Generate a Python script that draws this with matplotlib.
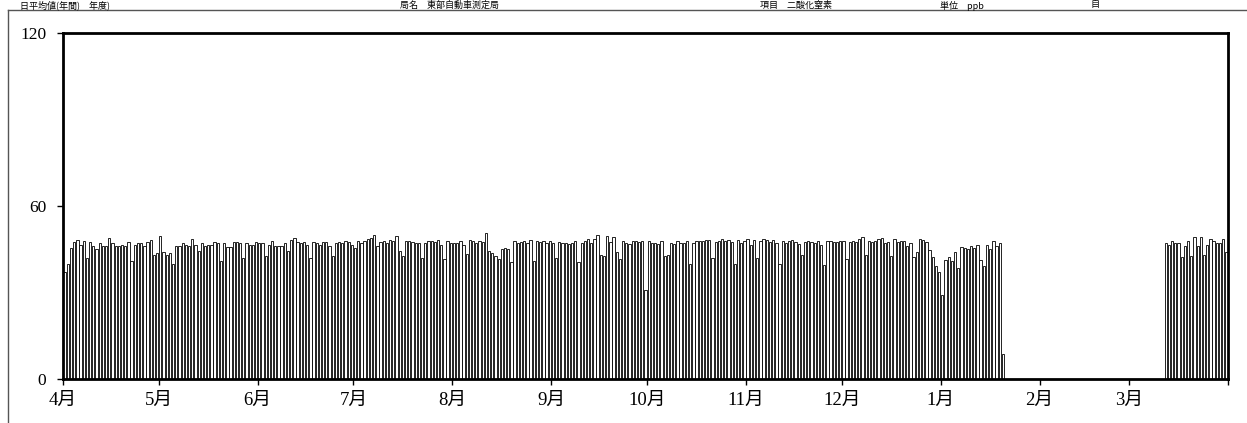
import matplotlib
matplotlib.use("Agg")
import matplotlib.pyplot as plt
from matplotlib.lines import Line2D
import numpy as np

# ---- data (daily means, April 1 .. March 31) ----
month_labels = ["4月", "5月", "6月", "7月", "8月", "9月", "10月", "11月", "12月", "1月", "2月", "3月"]
month_days = [30, 31, 30, 31, 31, 30, 31, 30, 31, 31, 28, 31]

apr = [37.0, 40.0, 45.5, 47.4, 48.1, 46.6, 47.8, 41.8, 47.4, 46.0, 45.1, 47.0, 46.0, 46.0, 49.0,
       47.0, 46.3, 46.3, 46.5, 46.3, 47.4, 41.0, 46.6, 47.0, 47.0, 46.0, 47.4, 48.1, 42.9, 43.7]
may = [49.5, 43.9, 42.9, 43.7, 40.0, 46.0, 46.0, 47.2, 46.6, 46.3, 48.7, 46.6, 44.3, 47.2, 46.0,
       46.6, 46.6, 47.4, 47.2, 41.0, 47.2, 45.8, 45.8, 47.4, 47.4, 47.2, 42.0, 47.2, 46.6, 46.6, 47.4]
jun = [47.2, 47.0, 42.7, 46.6, 47.8, 46.0, 46.3, 46.3, 47.0, 44.5, 48.1, 49.0, 47.4, 47.0, 47.5,
       46.5, 42.0, 47.5, 47.0, 46.5, 47.5, 47.5, 46.0, 42.5, 47.0, 47.5, 47.0, 48.0, 47.5, 46.5]
jul = [45.5, 47.8, 47.0, 48.0, 48.5, 48.8, 50.1, 46.0, 47.5, 47.8, 47.0, 48.2, 48.0, 49.6, 44.3,
       42.5, 47.8, 47.8, 47.4, 47.0, 47.0, 42.0, 47.0, 47.8, 48.0, 47.5, 48.2, 46.5, 41.6, 47.8, 47.2]
aug = [47.3, 47.3, 47.8, 46.5, 43.5, 48.3, 48.0, 47.3, 48.0, 47.5, 50.7, 44.3, 43.7, 42.5, 41.6,
       45.0, 45.5, 45.0, 40.5, 47.8, 47.3, 47.5, 48.0, 47.0, 48.2, 41.0, 48.0, 47.5, 48.0, 47.0, 47.8]
sep = [47.0, 42.0, 47.5, 47.3, 47.3, 46.8, 47.0, 47.8, 40.5, 47.0, 47.8, 48.5, 47.0, 48.5, 50.0,
       43.0, 42.5, 49.6, 47.5, 49.3, 43.9, 41.6, 48.0, 47.3, 46.8, 47.8, 47.8, 47.5, 47.8, 31.0]
oct_ = [48.0, 47.3, 47.3, 46.8, 47.8, 42.5, 43.0, 47.3, 46.8, 47.8, 47.3, 47.3, 48.0, 40.0, 47.3,
        48.0, 48.0, 47.8, 48.3, 48.3, 42.0, 47.5, 47.8, 48.5, 48.0, 48.3, 47.5, 40.0, 48.3, 47.0, 47.8]
nov = [48.6, 46.5, 48.3, 42.0, 48.0, 48.6, 48.3, 47.5, 48.3, 47.0, 40.0, 48.0, 47.0, 47.8, 48.3,
       47.5, 46.8, 43.0, 47.5, 48.0, 47.5, 47.0, 48.0, 46.5, 39.5, 47.8, 48.0, 47.5, 47.5, 48.0]
dec = [47.8, 41.6, 47.5, 48.0, 47.5, 48.5, 49.3, 43.0, 48.0, 47.5, 48.0, 48.5, 48.8, 47.0, 47.5,
       42.5, 48.5, 47.5, 48.0, 47.8, 46.3, 47.0, 42.2, 44.1, 48.6, 48.1, 47.4, 44.9, 42.4, 39.1, 37.1]
jan = [29.3, 41.4, 42.4, 41.0, 44.2, 38.5, 45.8, 45.5, 45.0, 46.0, 45.5, 46.6, 41.4, 39.1, 46.5,
       45.0, 47.8, 46.3, 47.0, 8.7, 0, 0, 0, 0, 0, 0, 0, 0, 0, 0, 0]
feb = [0] * 28
mar = [0, 0, 0, 0, 0, 0, 0, 0, 0, 0, 0,
       47.0, 46.6, 47.8, 47.2, 47.2, 42.4, 46.0, 47.8, 42.7, 49.3, 46.3, 49.3, 43.0, 46.6,
       48.6, 47.8, 47.0, 47.0, 48.4, 44.0]

values = apr + may + jun + jul + aug + sep + oct_ + nov + dec + jan + feb + mar
y_ticks = [0, 60, 120]
title_parts = ["日平均値(年間)　年度)", "局名　東部自動車測定局", "項目　二酸化窒素", "単位　ppb", "自"]

# ---- figure ----
W, H = 1247, 423
fig = plt.figure(figsize=(W / 100, H / 100), dpi=100)
fig.patch.set_facecolor("white")

ax = fig.add_axes([63 / W, 1 - 379 / H, (1228 - 63) / W, (379 - 33) / H])

n = len(values)
x = np.arange(n) + 0.5
ax.bar(x, values, width=0.72, color="white", edgecolor="black", linewidth=0.6)

ax.set_xlim(0, n)
ax.set_ylim(0, 120)

bounds = np.concatenate([[0], np.cumsum(month_days)])
ax.set_xticks(bounds)
ax.set_xticklabels(month_labels + [""])
ax.set_yticks(y_ticks)
ax.set_yticklabels([str(v) for v in y_ticks])

for lab in ax.get_xticklabels():
    lab.set_fontfamily(["Liberation Serif", "Noto Sans CJK JP"])
    lab.set_fontsize(13.5)
for lab in ax.get_yticklabels():
    lab.set_fontfamily(["Liberation Serif"])
    lab.set_fontsize(12.5)

ax.tick_params(axis="x", direction="out", length=4, width=1, pad=5, colors="black")
ax.tick_params(axis="y", direction="out", length=4, width=1, pad=8, colors="black")

for s in ax.spines.values():
    s.set_linewidth(2.0)
    s.set_color("black")

# outer chart-area frame (partially visible)
fig.add_artist(Line2D([8 / W, 1.0], [1 - 10 / H, 1 - 10 / H], transform=fig.transFigure,
                      color="#555555", lw=1))
fig.add_artist(Line2D([8 / W, 8 / W], [1 - 10 / H, 0], transform=fig.transFigure,
                      color="#555555", lw=1))

# title pieces in the narrow band above the chart frame
title_x = [20, 400, 760, 940, 1090]
for px, txt in zip(title_x, title_parts):
    fig.text(px / W, 1 - 0.5 / H, txt, ha="left", va="top", fontsize=6.5,
             family=["Noto Sans CJK JP", "DejaVu Sans"], color="black")

fig.savefig("out.png", dpi=100)
